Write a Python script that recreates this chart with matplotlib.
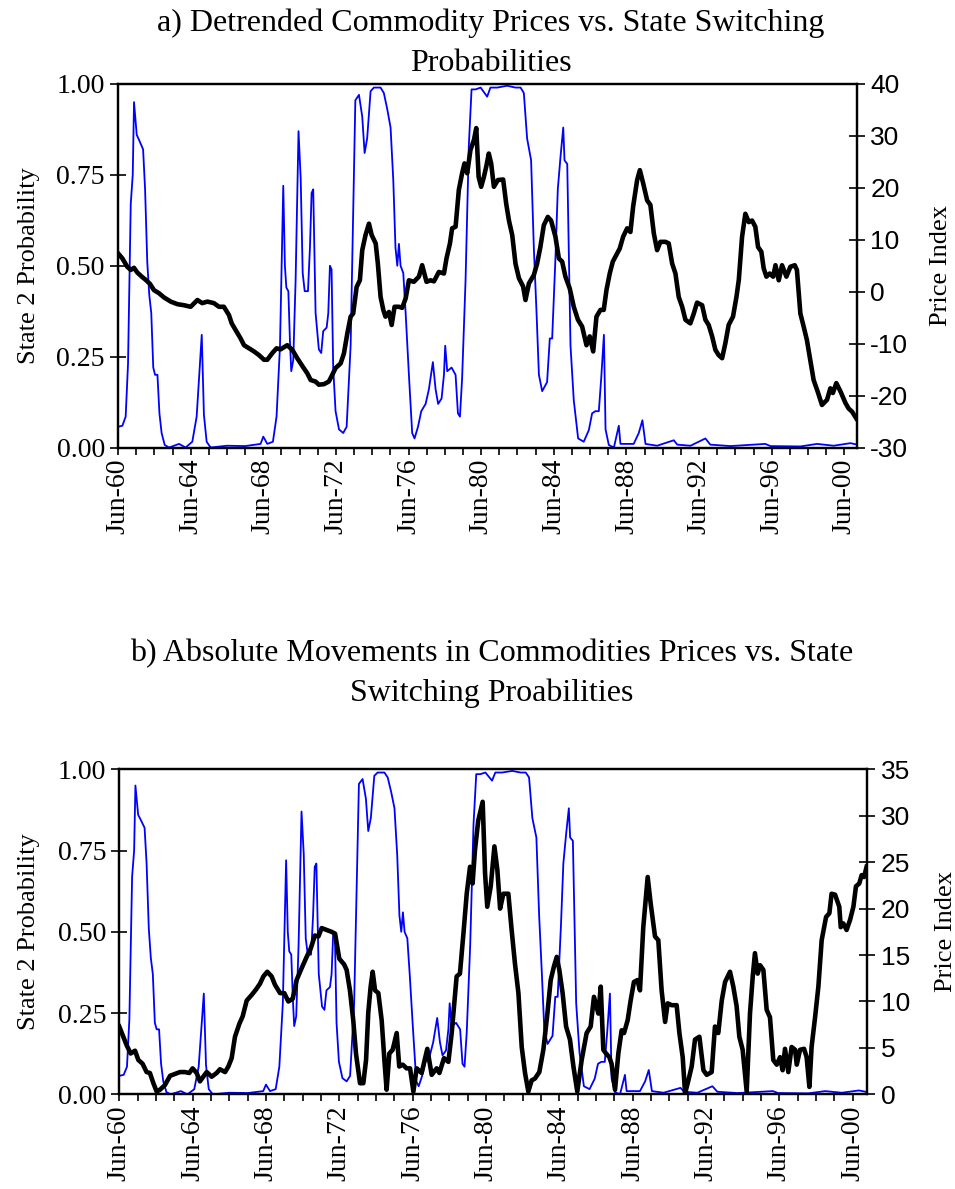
import numpy as np
import matplotlib
matplotlib.use('Agg')
import matplotlib.pyplot as plt

plt.rcParams['font.family'] = 'Liberation Serif'

# DATA (years after Jun-1960)
blue_t = [0.00, 0.24, 0.42, 0.55, 0.70, 0.81, 0.88, 1.03, 1.21, 1.38,
          1.49, 1.61, 1.72, 1.83, 1.94, 2.04, 2.17, 2.28, 2.40, 2.57,
          2.81, 3.36, 3.72, 4.09, 4.33, 4.51, 4.61, 4.73, 4.88, 5.10,
          6.00, 7.00, 7.85, 8.00, 8.22, 8.53, 8.73, 8.92, 9.10, 9.19,
          9.27, 9.38, 9.47, 9.54, 9.65, 9.78, 9.94, 10.06, 10.17, 10.28,
          10.46, 10.57, 10.66, 10.75, 10.88, 11.06, 11.19, 11.30, 11.49, 11.58,
          11.67, 11.76, 11.85, 11.98, 12.17, 12.40, 12.59, 12.81, 13.07, 13.27,
          13.45, 13.58, 13.72, 13.91, 14.09, 14.46, 14.64, 14.83, 15.01, 15.16,
          15.28, 15.38, 15.47, 15.56, 15.71, 15.84, 16.02, 16.20, 16.33, 16.52,
          16.70, 16.94, 17.12, 17.34, 17.49, 17.63, 17.82, 17.95, 18.02, 18.13,
          18.37, 18.59, 18.72, 18.83, 18.95, 19.14, 19.32, 19.47, 19.69, 19.97,
          20.33, 20.51, 20.88, 21.43, 21.89, 22.17, 22.35, 22.53, 22.75, 22.90,
          23.05, 23.18, 23.36, 23.63, 23.78, 23.91, 24.09, 24.22, 24.37, 24.52,
          24.59, 24.74, 24.92, 25.10, 25.34, 25.65, 25.93, 26.11, 26.29, 26.48,
          26.61, 26.76, 26.85, 27.03, 27.31, 27.49, 27.58, 27.67, 28.40, 28.68,
          28.88, 29.05, 29.69, 30.61, 30.80, 31.53, 32.35, 32.62, 33.73, 35.65,
          35.93, 37.58, 38.50, 39.41, 40.34, 40.71]
blue_p = [0.057, 0.06, 0.085, 0.23, 0.67, 0.75, 0.95, 0.86, 0.84, 0.82,
          0.71, 0.51, 0.42, 0.37, 0.22, 0.20, 0.20, 0.094, 0.04, 0.007,
          0.0, 0.01, 0.0, 0.016, 0.085, 0.23, 0.31, 0.09, 0.016, 0.0,
          0.005, 0.004, 0.01, 0.03, 0.01, 0.016, 0.085, 0.28, 0.72, 0.50,
          0.44, 0.43, 0.29, 0.21, 0.24, 0.46, 0.87, 0.74, 0.48, 0.43,
          0.43, 0.55, 0.70, 0.71, 0.37, 0.27, 0.26, 0.32, 0.33, 0.37,
          0.50, 0.49, 0.22, 0.10, 0.05, 0.04, 0.057, 0.28, 0.955, 0.97,
          0.91, 0.81, 0.85, 0.98, 0.99, 0.99, 0.975, 0.93, 0.88, 0.735,
          0.55, 0.50, 0.56, 0.50, 0.48, 0.37, 0.20, 0.04, 0.025, 0.057,
          0.10, 0.12, 0.16, 0.235, 0.16, 0.12, 0.135, 0.20, 0.28, 0.21,
          0.22, 0.20, 0.094, 0.085, 0.19, 0.46, 0.83, 0.985, 0.985, 0.99,
          0.965, 0.99, 0.99, 0.995, 0.99, 0.99, 0.975, 0.85, 0.79, 0.55,
          0.37, 0.20, 0.155, 0.18, 0.30, 0.30, 0.52, 0.71, 0.80, 0.88,
          0.79, 0.78, 0.28, 0.13, 0.025, 0.016, 0.048, 0.094, 0.10, 0.10,
          0.19, 0.31, 0.05, 0.007, 0.0, 0.04, 0.06, 0.01, 0.01, 0.04,
          0.075, 0.01, 0.005, 0.02, 0.008, 0.005, 0.025, 0.008, 0.004, 0.01,
          0.004, 0.003, 0.01, 0.005, 0.012, 0.008]

# detrended price index (panel a)
det_t = [0.00, 0.24, 0.51, 0.70, 0.88, 1.06, 1.34, 1.52, 1.76, 1.98,
         2.26, 2.53, 2.90, 3.27, 3.63, 4.00, 4.37, 4.64, 4.92, 5.28,
         5.56, 5.83, 6.11, 6.26, 6.48, 6.75, 6.94, 7.21, 7.49, 7.76,
         8.04, 8.22, 8.50, 8.73, 8.95, 9.32, 9.60, 9.87, 10.15, 10.42,
         10.61, 10.88, 11.06, 11.34, 11.61, 11.80, 11.98, 12.26, 12.44, 12.63,
         12.81, 12.95, 13.14, 13.32, 13.45, 13.63, 13.82, 13.97, 14.19, 14.31,
         14.46, 14.61, 14.73, 14.92, 15.07, 15.23, 15.47, 15.65, 15.84, 16.02,
         16.29, 16.57, 16.75, 16.99, 17.21, 17.40, 17.67, 17.95, 18.09, 18.28,
         18.40, 18.59, 18.77, 18.95, 19.08, 19.23, 19.41, 19.60, 19.73, 19.86,
         20.00, 20.15, 20.28, 20.42, 20.55, 20.70, 20.92, 21.21, 21.38, 21.53,
         21.71, 21.89, 22.08, 22.31, 22.44, 22.63, 22.90, 23.08, 23.26, 23.45,
         23.67, 23.85, 24.09, 24.28, 24.46, 24.64, 24.88, 25.10, 25.33, 25.56,
         25.80, 25.98, 26.17, 26.35, 26.57, 26.75, 26.90, 27.08, 27.25, 27.45,
         27.63, 27.82, 28.04, 28.22, 28.37, 28.59, 28.74, 28.92, 29.14, 29.32,
         29.51, 29.69, 29.87, 30.15, 30.33, 30.52, 30.70, 30.88, 31.07, 31.25,
         31.52, 31.71, 31.89, 32.17, 32.35, 32.53, 32.72, 32.90, 33.08, 33.27,
         33.45, 33.63, 33.87, 34.06, 34.19, 34.37, 34.55, 34.74, 34.92, 35.10,
         35.25, 35.43, 35.56, 35.71, 35.89, 36.08, 36.21, 36.39, 36.57, 36.81,
         37.03, 37.27, 37.39, 37.58, 37.76, 37.94, 38.12, 38.31, 38.53, 38.77,
         39.05, 39.23, 39.37, 39.56, 39.79, 40.06, 40.24, 40.43, 40.66]
det_v = [7.4, 6.4, 4.8, 4.2, 4.6, 3.7, 2.8, 2.3, 1.5, 0.3,
         -0.3, -1.1, -1.9, -2.4, -2.6, -2.9, -1.6, -2.2, -1.9, -2.2,
         -2.9, -2.9, -4.5, -6.1, -7.4, -9.0, -10.3, -10.9, -11.5, -12.2,
         -13.1, -13.1, -11.8, -10.9, -11.1, -10.3, -11.2, -12.8, -14.3, -15.7,
         -17.0, -17.3, -17.9, -17.8, -17.3, -16.0, -14.7, -13.8, -11.9, -8.0,
         -4.8, -4.2, 0.9, 2.2, 8.0, 10.9, 13.1, 10.9, 9.3, 5.4,
         -1.0, -3.5, -4.8, -3.9, -6.4, -2.9, -2.9, -3.1, -1.3, 2.2,
         1.9, 2.9, 5.1, 1.9, 2.2, 2.0, 3.8, 3.5, 6.4, 9.3,
         12.2, 12.5, 19.6, 22.8, 24.7, 22.8, 27.3, 29.2, 31.5, 22.1,
         20.2, 22.1, 24.1, 26.6, 24.7, 20.2, 21.5, 21.6, 16.9, 13.7,
         10.9, 5.4, 2.6, 1.0, -1.6, 1.6, 3.2, 5.4, 8.6, 12.8,
         14.4, 13.7, 10.6, 6.4, 5.8, 2.9, 0.6, -2.9, -5.4, -6.7,
         -10.3, -8.6, -11.5, -4.8, -3.5, -3.5, 0.3, 3.5, 5.8, 7.1,
         8.3, 10.6, 12.2, 11.5, 16.4, 21.5, 23.4, 20.9, 17.6, 16.7,
         11.2, 8.0, 9.6, 9.6, 9.3, 5.4, 3.5, -1.0, -2.9, -5.4,
         -6.1, -4.2, -2.1, -2.6, -5.4, -6.4, -8.6, -11.2, -12.2, -12.8,
         -9.9, -6.4, -4.8, -1.0, 2.3, 10.6, 15.0, 13.4, 13.7, 12.5,
         8.6, 7.7, 4.5, 2.9, 3.5, 2.9, 5.1, 2.2, 5.1, 2.9,
         4.8, 5.1, 4.2, -4.2, -6.7, -9.3, -13.1, -17.0, -19.2, -21.8,
         -20.8, -18.6, -19.5, -17.6, -19.2, -21.4, -22.5, -23.1, -24.4]

# absolute price movements (panel b)
abs_t = [0.00, 0.22, 0.40, 0.62, 0.86, 1.04, 1.27, 1.49, 1.67, 1.86,
         2.04, 2.22, 2.49, 2.77, 3.04, 3.31, 3.58, 3.82, 4.00, 4.22,
         4.40, 4.58, 4.77, 5.04, 5.31, 5.49, 5.77, 5.95, 6.13, 6.31,
         6.55, 6.73, 6.95, 7.22, 7.46, 7.67, 7.86, 8.07, 8.31, 8.49,
         8.77, 9.00, 9.22, 9.46, 9.67, 9.95, 10.22, 10.44, 10.67, 10.86,
         11.04, 11.31, 11.58, 11.77, 12.00, 12.26, 12.40, 12.58, 12.76, 12.91,
         13.13, 13.31, 13.46, 13.58, 13.71, 13.82, 13.95, 14.13, 14.31, 14.46,
         14.58, 14.73, 14.91, 15.13, 15.27, 15.46, 15.67, 15.86, 16.04, 16.22,
         16.49, 16.80, 17.04, 17.31, 17.46, 17.71, 17.95, 18.13, 18.40, 18.58,
         18.77, 18.95, 19.13, 19.27, 19.40, 19.58, 19.82, 19.95, 20.07, 20.26,
         20.46, 20.62, 20.77, 20.95, 21.22, 21.40, 21.58, 21.77, 21.95, 22.13,
         22.31, 22.49, 22.67, 22.91, 23.13, 23.35, 23.53, 23.71, 23.86, 24.00,
         24.18, 24.37, 24.58, 24.77, 24.98, 25.22, 25.49, 25.71, 25.89, 26.13,
         26.26, 26.40, 26.55, 26.73, 26.85, 27.04, 27.22, 27.40, 27.53, 27.73,
         27.89, 28.07, 28.26, 28.40, 28.58, 28.82, 28.98, 29.22, 29.40, 29.58,
         29.77, 29.91, 30.13, 30.40, 30.55, 30.73, 30.86, 31.04, 31.22, 31.40,
         31.64, 31.86, 32.04, 32.31, 32.49, 32.67, 32.86, 33.04, 33.31, 33.49,
         33.67, 33.82, 34.00, 34.22, 34.40, 34.55, 34.67, 34.82, 34.95, 35.13,
         35.31, 35.49, 35.67, 35.86, 36.04, 36.18, 36.31, 36.49, 36.67, 36.86,
         36.95, 37.13, 37.35, 37.49, 37.64, 37.76, 37.95, 38.13, 38.31, 38.55,
         38.73, 38.85, 39.04, 39.27, 39.35, 39.49, 39.67, 39.86, 40.04, 40.18,
         40.36, 40.49, 40.62, 40.76]
abs_v = [7.3, 6.2, 5.3, 4.4, 4.7, 3.7, 3.3, 2.4, 2.3, 1.2,
         0.3, 0.5, 1.0, 2.0, 2.2, 2.4, 2.4, 2.3, 2.8, 2.3,
         1.4, 1.9, 2.4, 1.9, 2.3, 2.7, 2.4, 3.0, 3.9, 6.2,
         7.6, 8.4, 10.1, 10.7, 11.3, 11.9, 12.7, 13.2, 12.7, 11.8,
         10.9, 10.9, 10.0, 10.3, 12.3, 13.6, 14.8, 15.7, 17.1, 17.0,
         17.9, 17.7, 17.5, 17.3, 14.6, 14.0, 13.4, 11.2, 8.0, 4.4,
         1.2, 1.2, 3.7, 8.8, 11.6, 13.2, 11.2, 10.9, 8.0, 3.7,
         0.5, 4.4, 4.8, 6.6, 3.0, 3.2, 2.8, 2.8, 0.3, 2.8,
         2.3, 4.9, 2.1, 2.8, 2.3, 3.9, 3.5, 6.6, 12.7, 13.0,
         17.3, 21.6, 24.5, 22.7, 26.3, 29.5, 31.5, 23.8, 20.2, 22.4,
         26.7, 24.2, 20.0, 21.6, 21.6, 17.7, 14.1, 10.9, 5.1, 2.3,
         0.3, 1.5, 1.7, 2.4, 4.8, 8.7, 12.3, 13.8, 14.8, 13.4,
         10.9, 7.3, 5.9, 3.0, 0.3, 3.7, 6.6, 7.3, 10.5, 8.7,
         11.6, 4.8, 4.4, 4.0, 3.3, 0.5, 4.4, 6.9, 6.6, 8.0,
         10.1, 12.1, 12.3, 11.2, 18.0, 23.4, 20.6, 17.0, 16.6, 11.2,
         7.8, 9.8, 9.6, 9.6, 6.6, 4.0, 0.1, 1.5, 3.0, 5.9,
         6.2, 2.6, 2.1, 2.4, 7.3, 6.6, 10.1, 12.1, 13.2, 11.6,
         9.5, 6.2, 4.8, 0.3, 8.7, 12.7, 15.2, 13.0, 13.9, 13.4,
         9.1, 8.3, 3.7, 3.2, 4.0, 2.6, 4.9, 2.4, 5.1, 4.8,
         3.2, 4.8, 4.9, 4.0, 0.8, 5.1, 8.3, 11.6, 16.6, 19.1,
         19.5, 21.6, 21.5, 20.2, 18.0, 18.4, 17.7, 18.8, 20.2, 22.4,
         22.7, 23.6, 23.4, 24.5]

year_ticks = np.arange(0, 41)
tick_labels = ['Jun-%02d' % ((60 + k) % 100) if k % 4 == 0 else '' for k in year_ticks]


def make_panel(rect, price_t, price_v, ylim2, yticks2, xmax, label_x):
    ax = fig.add_axes(rect)
    ax.plot(1960.5 + np.array(blue_t), blue_p, color='#0000ff', lw=1.3)
    ax.set_ylim(0, 1)
    ax.set_yticks([0, 0.25, 0.5, 0.75, 1.0])
    ax.set_yticklabels(['0.00', '0.25', '0.50', '0.75', '1.00'], fontsize=20)
    ax.set_xlim(1960.5, 1960.5 + xmax)
    ax.set_xticks(1960.5 + year_ticks)
    ax.set_xticklabels(tick_labels, rotation=90, fontsize=20)
    ax.tick_params(axis='x', direction='out', length=5, width=1.2, pad=3)
    ax.tick_params(axis='y', direction='inout', length=11, width=1.2, pad=4)
    ax.set_ylabel('State 2 Probability', fontsize=19)
    ax.yaxis.set_label_coords(label_x[0], 0.5)
    for s in ax.spines.values():
        s.set_linewidth(1.6)

    ax2 = ax.twinx()
    ax2.plot(1960.5 + np.array(price_t), price_v, color='black', lw=3.3)
    ax2.set_ylim(*ylim2)
    ax2.set_yticks(yticks2)
    ax2.set_yticklabels([str(v) for v in yticks2], fontsize=19,
                        family='Liberation Sans')
    ax2.tick_params(axis='y', direction='inout', length=11, width=1.2, pad=4)
    ax2.set_ylabel('Price Index', fontsize=19, rotation=90)
    ax2.yaxis.set_label_coords(label_x[1], 0.5)
    for s in ax2.spines.values():
        s.set_linewidth(1.6)
    return ax, ax2


fig = plt.figure(figsize=(9.55, 11.89), dpi=100)

make_panel([0.1236, 0.6236, 0.7738, 0.3058], det_t, det_v, (-30, 40),
           list(range(-30, 41, 10)), 40.7, (-0.106, 1.099))
make_panel([0.1249, 0.0796, 0.7833, 0.2734], abs_t, abs_v, (0, 35),
           list(range(0, 36, 5)), 40.8, (-0.106, 1.09))

fig.text(0.514, 0.9635, 'a) Detrended Commodity Prices vs. State Switching\nProbabilities',
         ha='center', va='center', fontsize=23, linespacing=1.5)
fig.text(0.515, 0.4337, 'b) Absolute Movements in Commodities Prices vs. State\nSwitching Proabilities',
         ha='center', va='center', fontsize=23, linespacing=1.45)

plt.savefig('out.png', dpi=100)
